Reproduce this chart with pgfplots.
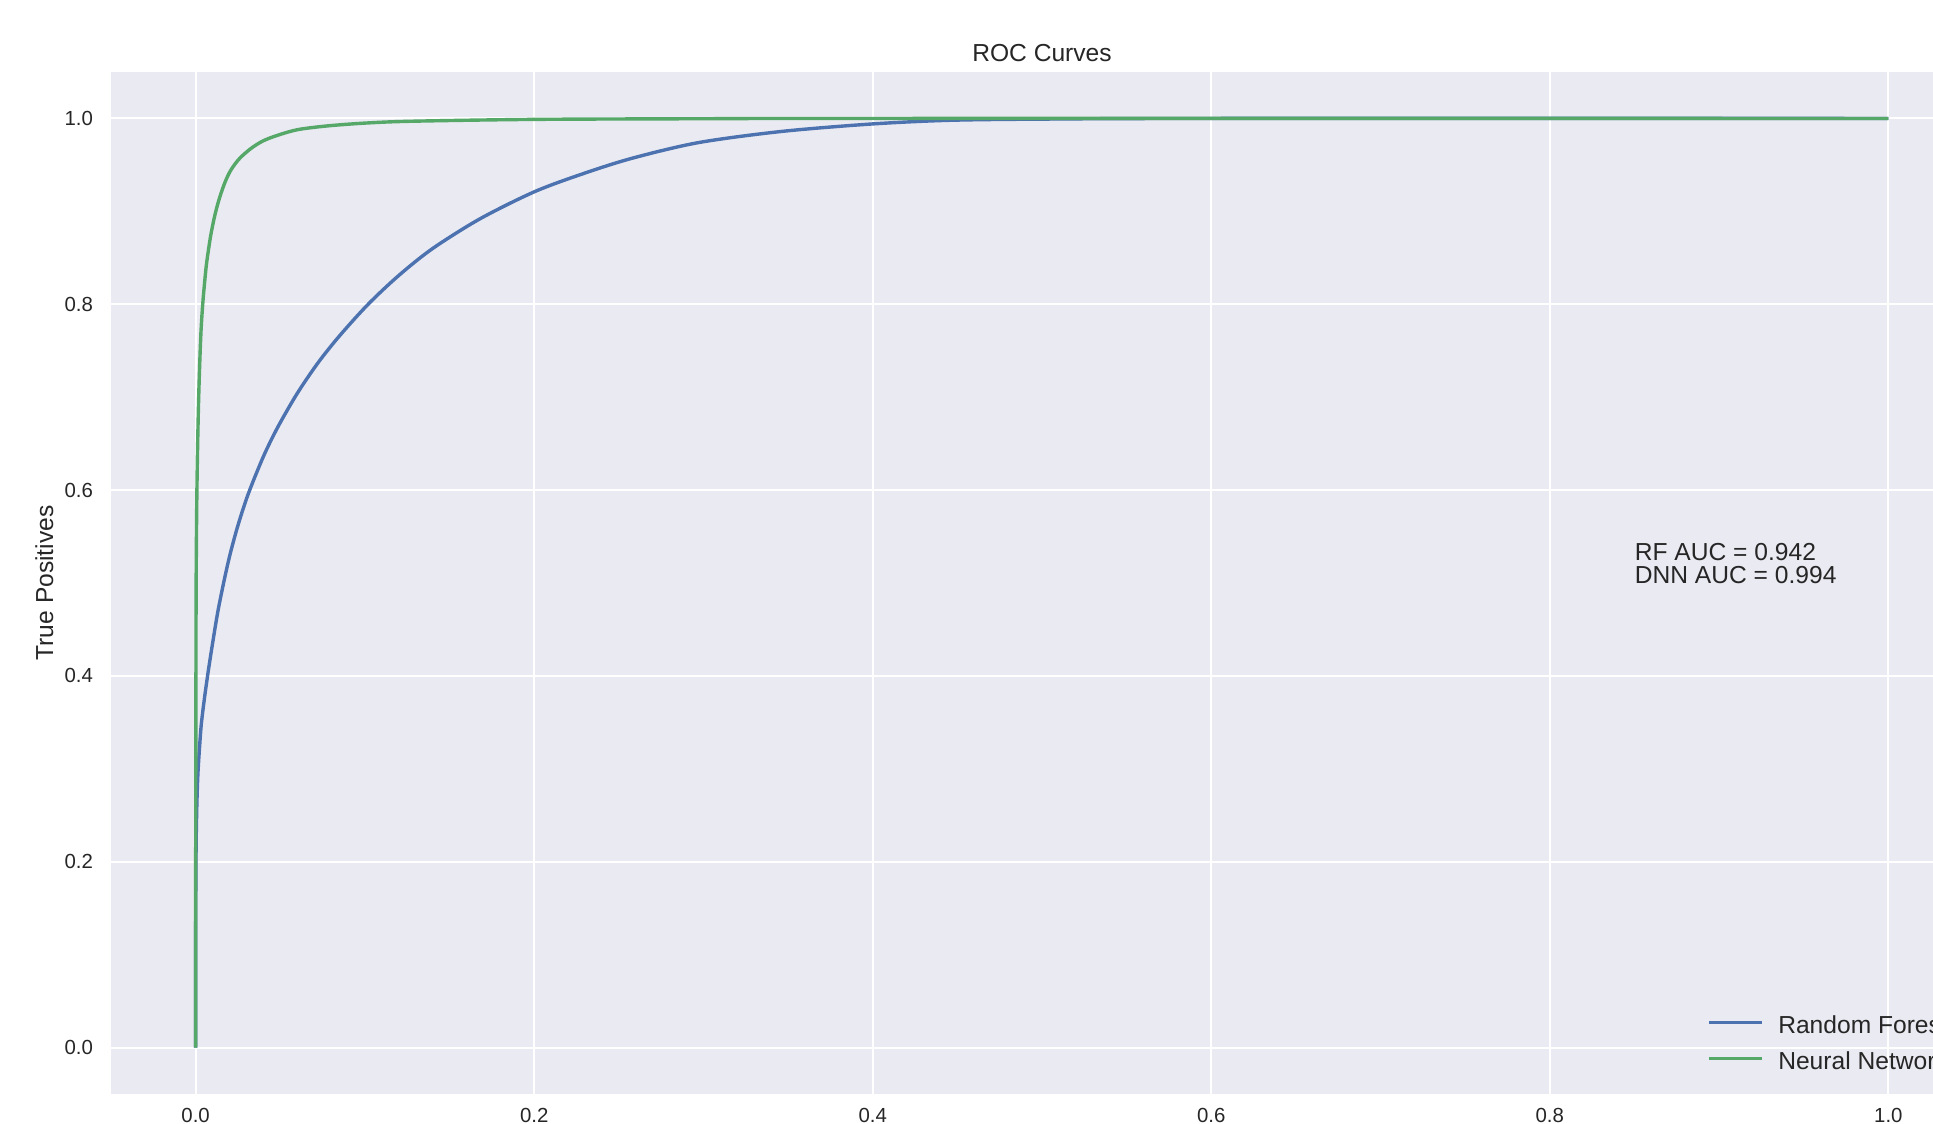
\documentclass[border=0pt]{standalone}
\usepackage{pgfplots}
\pgfplotsset{compat=1.18}
\usepackage{fontspec}
\setmainfont{Liberation Sans}
\definecolor{sbblue}{HTML}{4C72B0}
\definecolor{sbgreen}{HTML}{55A868}
\definecolor{sbbg}{HTML}{EAEAF2}
\definecolor{sbtext}{HTML}{262626}
\begin{document}
\begin{tikzpicture}
\path[use as bounding box] (0,0) rectangle (966.5bp,-562bp);
\clip (0,0) rectangle (966.5bp,-562bp);
\begin{axis}[
  at={(55.5bp,-547bp)}, anchor=south west,
  scale only axis, width=931bp, height=511bp,
  xmin=-0.05, xmax=1.05, ymin=-0.05, ymax=1.05,
  axis background/.style={fill=sbbg},
  axis line style={draw=none},
  grid=major, major grid style={white, line width=1bp},
  major tick length=0pt,
  xtick={0,0.2,0.4,0.6,0.8,1.0},
  ytick={0,0.2,0.4,0.6,0.8,1.0},
  xticklabels={0.0,0.2,0.4,0.6,0.8,1.0},
  yticklabels={0.0,0.2,0.4,0.6,0.8,1.0},
  ticklabel style={font=\fontsize{10.2bp}{12bp}\selectfont, text=sbtext},
  xticklabel style={anchor=north, inner sep=0pt, yshift=-7bp},
  yticklabel style={anchor=east, inner sep=0pt, xshift=-8.8bp},
  title={ROC Curves},
  every axis title/.style={at={(axis description cs:0.5,1)}, anchor=base, yshift=5.2bp, inner sep=0pt,
    font=\fontsize{12.3bp}{14bp}\selectfont, text=sbtext},
  ylabel={True Positives},
  ylabel style={at={(axis description cs:-0.0311,0.5)}, anchor=base, inner sep=0pt,
    font=\fontsize{12.3bp}{14bp}\selectfont, text=sbtext},
  legend cell align=left,
  legend image code/.code={\draw[#1, line width=1.7bp] (0bp,0bp) -- (26.4bp,0bp);},
  legend style={draw=none, fill=none, at={(axis description cs:0.8573,0.0829)}, anchor=north west,
    inner sep=0pt, outer sep=0pt, row sep=5bp, column sep=7.4bp,
    font=\fontsize{12.3bp}{14bp}\selectfont, text=sbtext,
    nodes={inner sep=0pt, text height=12bp, text depth=1bp}},
]
\addplot[sbblue, line width=1.7bp, smooth, tension=0.5] coordinates {
(0,0) (0,0.10) (0.0001,0.17) (0.0003,0.22) (0.0007,0.26) (0.0013,0.293)
(0.0022,0.32) (0.0033,0.347) (0.0050,0.373) (0.0072,0.402) (0.0100,0.435)
(0.0132,0.470) (0.0171,0.505) (0.0205,0.532) (0.025,0.562) (0.0309,0.595)
(0.040,0.636) (0.0486,0.668) (0.060,0.704) (0.0723,0.737) (0.085,0.766)
(0.1019,0.800) (0.120,0.831) (0.140,0.860) (0.168,0.892) (0.200,0.921)
(0.228,0.940) (0.2575,0.957) (0.297,0.974) (0.346,0.986) (0.399,0.994)
(0.445,0.998) (0.50,0.9993) (0.60,1.0) (1.0,1.0)
};
\addlegendentry{Random Forest}
\addplot[sbgreen, line width=1.7bp, smooth, tension=0.5] coordinates {
(0,0) (0,0.15) (0.0001,0.30) (0.0002,0.42) (0.0003,0.50) (0.0006,0.575)
(0.0010,0.63) (0.0016,0.685) (0.0023,0.730) (0.0032,0.772) (0.0044,0.805)
(0.0062,0.840) (0.0077,0.860) (0.0092,0.877) (0.0115,0.897) (0.0142,0.915)
(0.0175,0.932) (0.021,0.945) (0.026,0.957) (0.0329,0.968) (0.040,0.976)
(0.0486,0.982) (0.0604,0.988) (0.078,0.992) (0.1,0.995) (0.1275,0.997)
(0.2,0.999) (0.3,0.9997) (0.4,1.0) (1.0,1.0)
};
\addlegendentry{Neural Network}
\node[anchor=base west, inner sep=0pt, font=\fontsize{12.3bp}{14bp}\selectfont, text=sbtext]
  at (axis cs:0.85,0.5) {DNN AUC = 0.994};
\node[anchor=base west, inner sep=0pt, yshift=11.2bp, font=\fontsize{12.3bp}{14bp}\selectfont, text=sbtext]
  at (axis cs:0.85,0.5) {RF AUC = 0.942};
\end{axis}
\end{tikzpicture}
\end{document}
